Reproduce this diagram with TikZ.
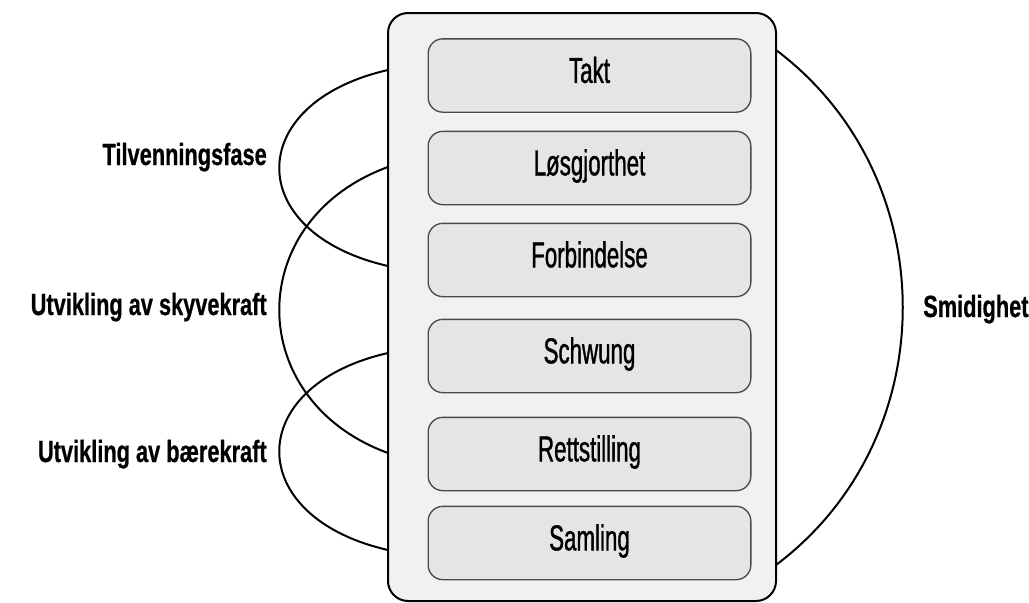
\documentclass[tikz,border=0pt]{standalone}
\usepackage{fontspec}
\setmainfont{Liberation Sans}
\newfontfamily\boxfont[FakeStretch=0.62,FakeBold=1]{Liberation Sans}
\newfontfamily\sidefont[FakeStretch=0.71,FakeBold=0.6]{Liberation Sans}
\definecolor{rammegra}{HTML}{F1F1F1}
\definecolor{boksgra}{HTML}{E5E5E5}
\definecolor{kantgra}{HTML}{4A4A4A}
\tikzset{
    fase/.style={draw=kantgra, line width=1pt, fill=boksgra,
        rounded corners=11pt, minimum width=242pt, minimum height=55pt,
        font=\boxfont\fontsize{27}{30}\selectfont,
        text height=19pt, text depth=8pt},
    sidetekst/.style={inner sep=0pt,
        font=\sidefont\bfseries\fontsize{23}{26}\selectfont},
    bue/.style={line width=1.5pt}
}
\begin{document}
\begin{tikzpicture}[x=0.75pt, y=-0.75pt]
    \useasboundingbox (0,0) rectangle (1029,603);
    \node[draw, line width=1.5pt, fill=rammegra, rounded corners=15pt,
        minimum width=291pt, minimum height=441pt] (ramme) at (582,307) {};
    \node[fase] (takt) at (589.5,75.5) {Takt};
    \node[fase] (losg) at (589.5,168) {Løsgjorthet};
    \node[fase] (forb) at (589.5,260) {Forbindelse};
    \node[fase] (schwung) at (589.5,356) {Schwung};
    \node[fase] (rett) at (589.5,454) {Rettstilling};
    \node[fase] (samling) at (589.5,543) {Samling};
    % endepunkter for buene
    \coordinate (tilv1) at (388,70);
    \coordinate (tilv2) at (388,266);
    \coordinate (skyv1) at (388,167);
    \coordinate (skyv2) at (388,453);
    \coordinate (baer1) at (388,353);
    \coordinate (baer2) at (388,550);
    \coordinate (smid1) at (776,50);
    \coordinate (smid2) at (776,565);
    \begin{scope}[bue]
    \draw (tilv1) .. controls +(-145,33) and +(-145,-33) .. (tilv2);
    \draw (skyv1) .. controls +(-145,53) and +(-145,-53) .. (skyv2);
    \draw (baer1) .. controls +(-145,33) and +(-145,-33) .. (baer2);
    \draw (smid1) .. controls +(169,127) and +(169,-127) .. (smid2);
    \end{scope}
    \node[sidetekst, anchor=base east] (tilvtekst) at (267,165) {Tilvenningsfase};
    \node[sidetekst, anchor=base east] (skyvtekst) at (267,315) {Utvikling av skyvekraft};
    \node[sidetekst, anchor=base east] (baertekst) at (267,462) {Utvikling av bærekraft};
    \node[sidetekst, anchor=base west] (smidtekst) at (923,317) {Smidighet};
\end{tikzpicture}
\end{document}
